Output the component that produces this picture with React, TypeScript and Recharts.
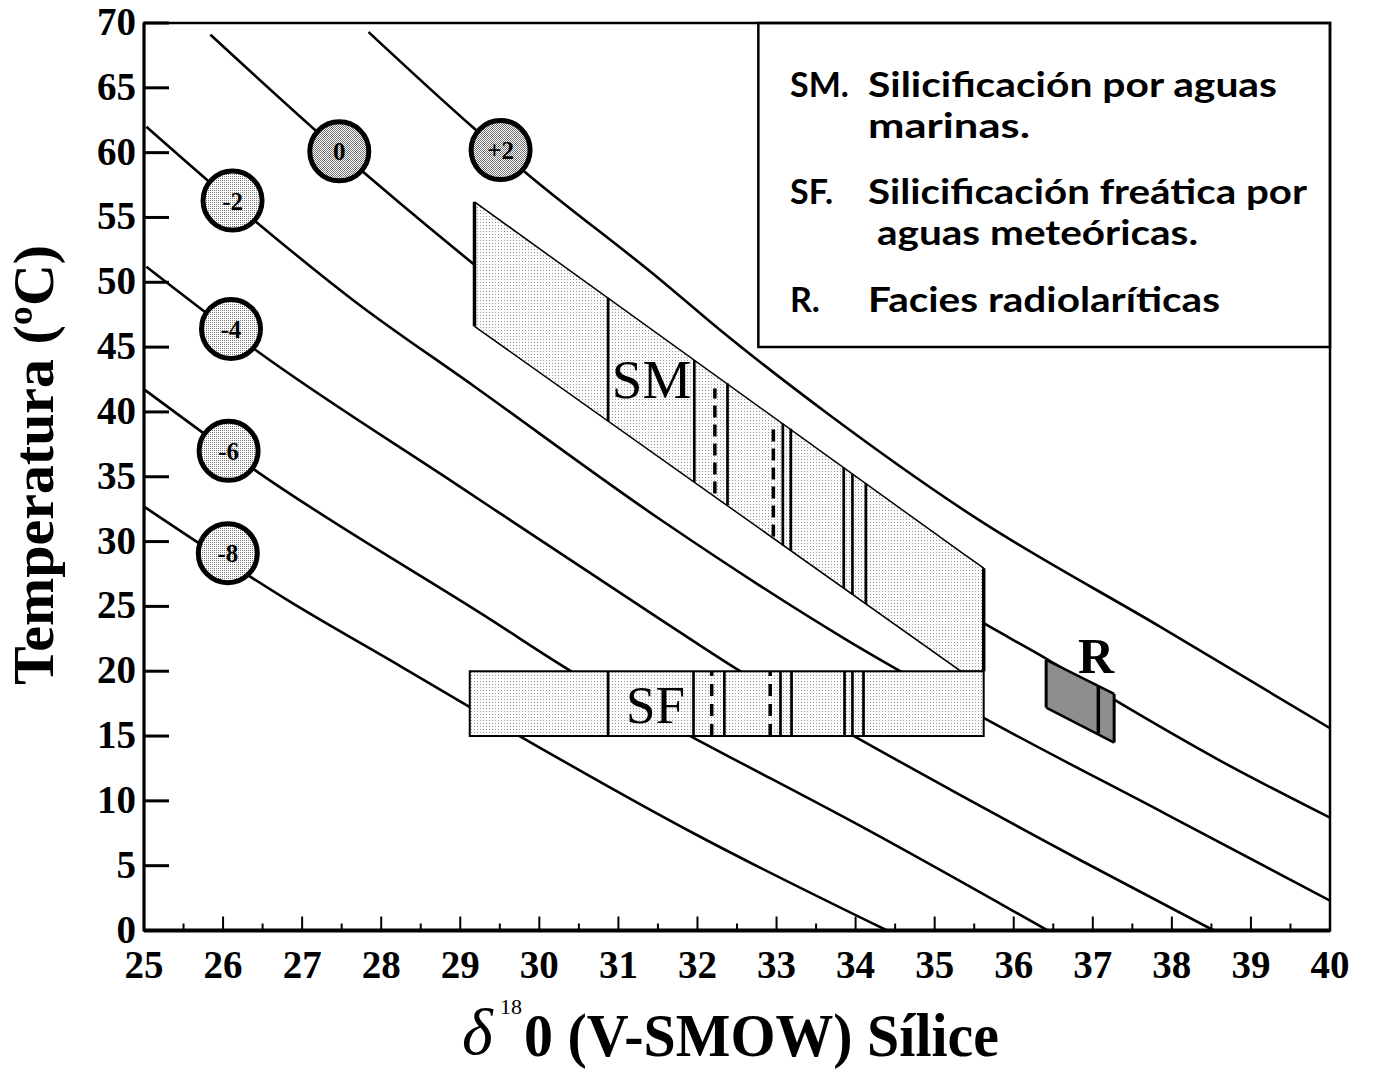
import React from 'react';
import {
  ComposedChart,
  Line,
  Area,
  Scatter,
  XAxis,
  YAxis,
  ReferenceArea,
  ReferenceLine,
} from 'recharts';

// axis ticks (half-integers on x are the small minor ticks)
const xTicks = [25, 25.5, 26, 26.5, 27, 27.5, 28, 28.5, 29, 29.5, 30, 30.5, 31, 31.5, 32, 32.5, 33, 33.5, 34, 34.5, 35, 35.5, 36, 36.5, 37, 37.5, 38, 38.5, 39, 39.5, 40];
const yTicks = [0, 5, 10, 15, 20, 25, 30, 35, 40, 45, 50, 55, 60, 65, 70];

// isotherm curves, one per delta18O of water
const curvePlus2 = [
  { x: 27.84, y: 69.3 }, { x: 29.17, y: 61.9 }, { x: 29.84, y: 58.4 }, { x: 31.53, y: 50.2 },
  { x: 32.29, y: 46.3 }, { x: 33.64, y: 39.9 }, { x: 35.5, y: 31.9 }, { x: 37.86, y: 23.4 }, { x: 40, y: 15.6 },
];
const curve0 = [
  { x: 25.84, y: 69.1 }, { x: 27.47, y: 60.1 }, { x: 29.17, y: 51.4 }, { x: 35.62, y: 23.7 },
  { x: 36.43, y: 20.9 }, { x: 37.27, y: 17.8 }, { x: 38.58, y: 13.2 }, { x: 40, y: 8.7 },
];
const curveMinus2 = [
  { x: 25.03, y: 62.0 }, { x: 26.43, y: 54.6 }, { x: 27.65, y: 48.6 }, { x: 29.17, y: 42.0 },
  { x: 31.53, y: 31.7 }, { x: 33.89, y: 22.4 }, { x: 35.62, y: 16.4 }, { x: 37.92, y: 9.0 }, { x: 40, y: 2.3 },
];
const curveMinus4 = [
  { x: 25.03, y: 51.2 }, { x: 26.43, y: 44.7 }, { x: 28.98, y: 34.3 }, { x: 31.53, y: 24.0 },
  { x: 32.54, y: 20.0 }, { x: 33.98, y: 15.0 }, { x: 36.85, y: 5.4 }, { x: 38.53, y: 0 },
];
const curveMinus6 = [
  { x: 25.01, y: 41.7 }, { x: 26.43, y: 35.4 }, { x: 29.38, y: 24.0 }, { x: 30.43, y: 19.9 },
  { x: 31.91, y: 15.0 }, { x: 34.17, y: 7.7 }, { x: 36.43, y: 0 },
];
const curveMinus8 = [
  { x: 25.0, y: 32.7 }, { x: 26.81, y: 25.5 }, { x: 28.24, y: 20.4 }, { x: 29.75, y: 15.0 },
  { x: 31.95, y: 7.5 }, { x: 34.4, y: 0 },
];
const curves = [curvePlus2, curve0, curveMinus2, curveMinus4, curveMinus6, curveMinus8];

// circled water values
const waterBadges = [
  { x: 29.51, y: 60.2, t: '+2', dark: true },
  { x: 27.47, y: 60.1, t: '0', dark: true },
  { x: 26.12, y: 56.3, t: '-2', dark: false },
  { x: 26.1, y: 46.4, t: '-4', dark: false },
  { x: 26.07, y: 37.0, t: '-6', dark: false },
  { x: 26.06, y: 29.1, t: '-8', dark: false },
];

// SM field (range: bottom edge, top edge)
const smField = [
  { x: 29.18, r: [46.6, 56.2] },
  { x: 35.33, r: [20, 29.2] },
  { x: 35.62, r: [20, 27.95] },
];
const smDividers = [
  { x: 30.87, lo: 39.3, hi: 48.8, dash: false },
  { x: 31.96, lo: 34.6, hi: 44.0, dash: false },
  { x: 32.22, lo: 33.7, hi: 41.8, dash: true },
  { x: 32.38, lo: 32.8, hi: 42.2, dash: false },
  { x: 32.96, lo: 30.4, hi: 38.7, dash: true },
  { x: 33.08, lo: 29.7, hi: 39.1, dash: false },
  { x: 33.18, lo: 29.3, hi: 38.7, dash: false },
  { x: 33.85, lo: 26.4, hi: 35.7, dash: false },
  { x: 33.96, lo: 25.9, hi: 35.2, dash: false },
  { x: 34.13, lo: 25.2, hi: 34.5, dash: false },
];

// SF field
const sfBox = { x1: 29.12, x2: 35.62, y1: 15, y2: 20 };
const sfDividers = [
  { x: 30.87, dash: false }, { x: 31.95, dash: false }, { x: 32.18, dash: true }, { x: 32.34, dash: false },
  { x: 32.92, dash: true }, { x: 33.05, dash: false }, { x: 33.19, dash: false }, { x: 33.86, dash: false },
  { x: 33.96, dash: false }, { x: 34.1, dash: false },
];

// R field
const rField = [
  { x: 36.41, r: [17.2, 20.87] },
  { x: 37.27, r: [14.5, 18.25] },
];
const rDivider = { x: 37.07, lo: 15.2, hi: 18.9 };

const fieldTags = [
  { x: 31.42, y: 41.1, t: 'SM', size: 55, bold: false },
  { x: 31.47, y: 16.0, t: 'SF', size: 53, bold: false },
  { x: 37.04, y: 19.9, t: 'R', size: 50, bold: true },
];

const legendBox = { x1: 32.77, x2: 40, y1: 45, y2: 70 };

const SERIF = '"Liberation Serif", "Times New Roman", serif';
const SANS = 'Lato, "Open Sans", sans-serif';

const XTick = (props: any) => {
  const { x, y, payload } = props;
  const v = payload.value;
  const major = Number.isInteger(v);
  return (
    <g>
      <line x1={x} x2={x} y1={y} y2={y - (major ? 14 : 7)} stroke="#000" strokeWidth={2} />
      {major && (
        <text x={x} y={y + 47} textAnchor="middle" fontFamily={SERIF} fontWeight="bold" fontSize={39} fill="#000">
          {v}
        </text>
      )}
    </g>
  );
};

const YTick = (props: any) => {
  const { x, y, payload } = props;
  return (
    <g>
      <line x1={x} x2={x + 25} y1={y} y2={y} stroke="#000" strokeWidth={3} />
      <text x={x - 8} y={y + 12} textAnchor="end" fontFamily={SERIF} fontWeight="bold" fontSize={39} fill="#000">
        {payload.value}
      </text>
    </g>
  );
};

const Badge = (props: any) => {
  const { cx, cy, payload } = props;
  return (
    <g>
      <circle cx={cx} cy={cy} r={29.5} fill={payload.dark ? 'url(#stipDark)' : 'url(#stipLight)'} stroke="#000" strokeWidth={5} />
      <text x={cx} y={cy + 9} textAnchor="middle" fontFamily={SERIF} fontWeight="bold" fontSize={25} fill="#000">
        {payload.t}
      </text>
    </g>
  );
};

const Tag = (props: any) => {
  const { cx, cy, payload } = props;
  return (
    <text x={cx} y={cy} textAnchor="middle" fontFamily={SERIF} fontWeight={payload.bold ? 'bold' : 'normal'} fontSize={payload.size} fill="#000">
      {payload.t}
    </text>
  );
};

const legendText = { fontFamily: SANS, fontWeight: 700, fontSize: 34, fill: '#000' } as const;

export default function App() {
  return (
    <div style={{ position: 'absolute', left: 0, top: 0, width: 1374, height: 1072, background: '#fff' }}>
      <ComposedChart width={1374} height={1072} margin={{ top: 23, right: 44, left: 0, bottom: 0 }}>
        <defs>
          <pattern id="stipLight" width="2" height="2" patternUnits="userSpaceOnUse">
            <rect width="2" height="2" fill="#fff" />
            <rect width="1" height="1" fill="#7a7a7a" />
          </pattern>
          <pattern id="stipDark" width="2" height="2" patternUnits="userSpaceOnUse">
            <rect width="2" height="2" fill="#fff" />
            <rect width="1" height="1" fill="#707070" />
            <rect x="1" y="1" width="1" height="1" fill="#707070" />
          </pattern>
          <pattern id="stipField" width="3" height="3" patternUnits="userSpaceOnUse">
            <rect width="3" height="3" fill="#fbfbfb" />
            <rect width="1" height="1" fill="#9a9a9a" />
          </pattern>
        </defs>

        <XAxis
          type="number"
          dataKey="x"
          domain={[25, 40]}
          ticks={xTicks}
          interval={0}
          allowDataOverflow
          height={141.5}
          tickSize={0}
          tickMargin={0}
          tickLine={false}
          tick={<XTick />}
          axisLine={{ stroke: '#000', strokeWidth: 4 }}
        />
        <YAxis
          type="number"
          domain={[0, 70]}
          ticks={yTicks}
          interval={0}
          allowDataOverflow
          width={144}
          tickSize={0}
          tickMargin={0}
          tickLine={false}
          tick={<YTick />}
          axisLine={{ stroke: '#000', strokeWidth: 3 }}
        />

        <ReferenceArea x1={25} x2={40} y1={0} y2={70} fill="none" stroke="#000" strokeWidth={2.5} ifOverflow="visible" />

        {curves.map((c, i) => (
          <Line
            key={`curve-${i}`}
            data={c}
            dataKey="y"
            type="monotone"
            stroke="#000"
            strokeWidth={2.6}
            dot={false}
            activeDot={false}
            isAnimationActive={false}
            zIndex={400}
          />
        ))}

        <Area
          data={smField}
          dataKey="r"
          type="linear"
          fill="url(#stipField)"
          fillOpacity={1}
          stroke="#000"
          strokeWidth={1.5}
          isAnimationActive={false}
          zIndex={500}
        />
        <Area
          data={rField}
          dataKey="r"
          type="linear"
          fill="#8e8e8e"
          fillOpacity={1}
          stroke="#000"
          strokeWidth={2.5}
          isAnimationActive={false}
          zIndex={500}
        />
        <ReferenceArea
          x1={sfBox.x1}
          x2={sfBox.x2}
          y1={sfBox.y1}
          y2={sfBox.y2}
          fill="url(#stipField)"
          fillOpacity={1}
          stroke="#000"
          strokeWidth={2}
          zIndex={510}
        />

        <ReferenceLine segment={[{ x: smField[0].x, y: smField[0].r[0] }, { x: smField[0].x, y: smField[0].r[1] }]} stroke="#000" strokeWidth={3.5} zIndex={600} />
        <ReferenceLine segment={[{ x: smField[2].x, y: smField[2].r[0] }, { x: smField[2].x, y: smField[2].r[1] }]} stroke="#000" strokeWidth={3.5} zIndex={600} />
        {smDividers.map((d, i) => (
          <ReferenceLine
            key={`smd-${i}`}
            segment={[{ x: d.x, y: d.lo }, { x: d.x, y: d.hi }]}
            stroke="#000"
            strokeWidth={d.dash ? 3.5 : 2.7}
            strokeDasharray={d.dash ? '12 7' : undefined}
            zIndex={600}
          />
        ))}
        {sfDividers.map((d, i) => (
          <ReferenceLine
            key={`sfd-${i}`}
            segment={[{ x: d.x, y: sfBox.y1 }, { x: d.x, y: sfBox.y2 }]}
            stroke="#000"
            strokeWidth={d.dash ? 3.5 : 2.7}
            strokeDasharray={d.dash ? '12 8' : undefined}
            zIndex={600}
          />
        ))}
        <ReferenceLine segment={[{ x: rField[0].x, y: rField[0].r[0] }, { x: rField[0].x, y: rField[0].r[1] }]} stroke="#000" strokeWidth={3} zIndex={600} />
        <ReferenceLine segment={[{ x: rField[1].x, y: rField[1].r[0] }, { x: rField[1].x, y: rField[1].r[1] }]} stroke="#000" strokeWidth={3} zIndex={600} />
        <ReferenceLine segment={[{ x: rDivider.x, y: rDivider.lo }, { x: rDivider.x, y: rDivider.hi }]} stroke="#000" strokeWidth={3.5} zIndex={600} />

        <ReferenceArea
          x1={legendBox.x1}
          x2={legendBox.x2}
          y1={legendBox.y1}
          y2={legendBox.y2}
          fill="none"
          stroke="#000"
          strokeWidth={2.5}
          zIndex={650}
        />

        <Scatter data={waterBadges} dataKey="y" shape={<Badge />} isAnimationActive={false} zIndex={700} />
        <Scatter data={fieldTags} dataKey="y" shape={<Tag />} isAnimationActive={false} zIndex={700} />

        {/* legend text */}
        <g>
          <text x={790} y={97} {...legendText}>SM.</text>
          <text x={868} y={97} {...legendText} textLength={409} lengthAdjust="spacingAndGlyphs">Silicificación por aguas</text>
          <text x={868} y={138} {...legendText} textLength={162} lengthAdjust="spacingAndGlyphs">marinas.</text>
          <text x={790} y={204} {...legendText}>SF.</text>
          <text x={868} y={204} {...legendText} textLength={439} lengthAdjust="spacingAndGlyphs">Silicificación freática por</text>
          <text x={877} y={245} {...legendText} textLength={321} lengthAdjust="spacingAndGlyphs">aguas meteóricas.</text>
          <text x={790} y={312} {...legendText}>R.</text>
          <text x={868} y={312} {...legendText} textLength={352} lengthAdjust="spacingAndGlyphs">Facies radiolaríticas</text>
        </g>

        {/* axis titles */}
        <text
          x={53}
          y={465}
          transform="rotate(-90 53 465)"
          textAnchor="middle"
          fontFamily={SERIF}
          fontWeight="bold"
          fontSize={58}
          textLength={440}
          lengthAdjust="spacingAndGlyphs"
          fill="#000"
        >
          Temperatura (ºC)
        </text>
        <text x={462} y={1054} fontFamily={SERIF} fontStyle="italic" fontSize={66} fill="#000">δ</text>
        <text x={500} y={1014} fontFamily={SERIF} fontSize={22} fill="#000">18</text>
        <text x={524} y={1056} fontFamily={SERIF} fontWeight="bold" fontSize={62} textLength={475} lengthAdjust="spacingAndGlyphs" fill="#000">
          0 (V-SMOW) Sílice
        </text>
      </ComposedChart>
    </div>
  );
}
